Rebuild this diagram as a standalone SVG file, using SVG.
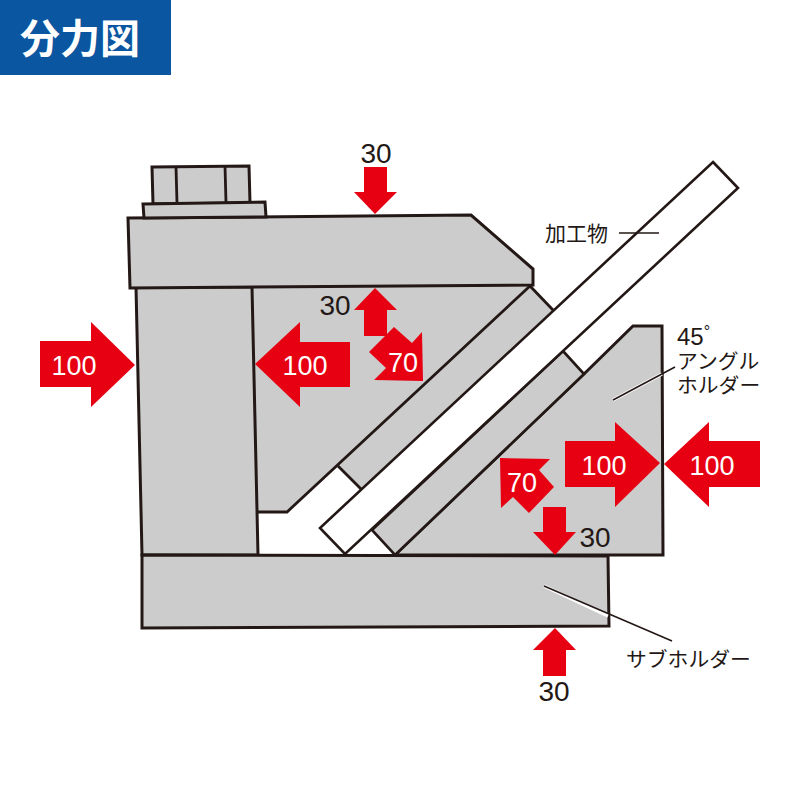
<svg xmlns="http://www.w3.org/2000/svg" width="800" height="800" viewBox="0 0 800 800">
<style>
.p{fill:#cccccc;stroke:#231815;stroke-width:3;stroke-linejoin:miter}
.w{fill:#ffffff;stroke:#231815;stroke-width:2.6;stroke-linejoin:miter}
.l{fill:none;stroke:#231815;stroke-width:2.8}
.d{fill:#cccccc;stroke:#231815;stroke-width:2.6}
.a{fill:#e60012}
.n{font-family:"Liberation Sans",Arial,sans-serif;font-size:27px;text-anchor:middle}
.nw{fill:#ffffff}
.nk{fill:#231815;font-size:28px}
.j{font-family:"Noto Sans CJK JP","Noto Sans",sans-serif;font-size:20.8px;fill:#231815;font-weight:400}
.halo{stroke:#ffffff;stroke-width:3.2;fill:none}
.lead{stroke:#231815;stroke-width:1.6;fill:none}
</style>
<g id="title">
<rect x="0" y="0" width="171" height="75" fill="#0a56a0"/>
<text x="20" y="53" font-family="'Noto Sans CJK JP',sans-serif" font-weight="700" font-size="40" fill="#ffffff">分力図</text>
</g>
<g id="angle-holder">
<polygon class="p" points="633,326 662,326 663,555 395,555 584,374"/>
</g>
<g id="lower-gap">
<polygon fill="#ffffff" points="258,512 287,512 338,466 361,489 345,554 372,530 395,555 258,555"/>
</g>
<g id="upper-fill">
<polygon fill="#cccccc" points="252,287 530,285 553,310 361,489 338,466 287,512 258,512"/>
<path class="l" d="M530,286 L287,512 L257,512"/>
<path class="l" d="M530,286 L553,310"/>
<path class="l" d="M338,466 L361,489"/>
</g>
<g id="lower-plate">
<polygon class="d" points="563,351 584,374 395,555 372,530"/>
</g>
<g id="workpiece">
<polygon class="w" points="713,162 738,188 345,554 320,528"/>
</g>
<g id="column">
<polygon class="p" points="136,287 252,287 258,555 142,555"/>
</g>
<g id="clamp-plate">
<polygon class="p" points="128,218 471,215 533,269 533,285 130,288"/>
</g>
<g id="bolt">
<polygon class="p" points="152,167 249,166 250,203 153,204"/>
<path class="l" d="M176,167 L177,203 M225,166 L226,203"/>
<polygon class="p" points="143,204 265,202 266,217 144,218"/>
</g>
<g id="sub-holder">
<polygon class="p" points="142,555 608,556 609,626 142,628"/>
</g>
<g id="connectors">
<path class="halo" d="M613,400 L662,374"/>
<path class="lead" d="M613,400 L675,367"/>
<path class="halo" d="M544,586 L608,616"/>
<path class="lead" d="M544,586 L672,641"/>
<path class="lead" d="M619,233 L659,233"/>
</g>
<g id="arrows">
<polygon class="a" points="40,341 91,341 91,322 135,365 91,407 91,387 40,387"/>
<polygon class="a" points="350,342 300,342 300,322 255,364 300,407 300,387 350,387"/>
<polygon class="a" points="565,441 615,441 615,422 660,463 615,507 615,487 565,487"/>
<polygon class="a" points="760,441 709,441 709,422 664,464 709,507 709,487 760,487"/>
<polygon class="a" points="364,167 387,167 387,192 397,192 375,214 354,192 364,192"/>
<polygon class="a" points="364,336 387,336 387,310 397,310 375,288 354,310 364,310"/>
<polygon class="a" points="543,507 566,507 566,532 576,532 555,555 533,532 543,532"/>
<polygon class="a" points="543,676 566,676 566,650 576,650 555,628 533,650 543,650"/>
<polygon class="a" points="423,381 422,332 412,343 394,327 369,352 386,368 374,380"/>
<polygon class="a" points="500,458 550,459 539,470 554,487 529,513 513,497 501,508"/>
</g>
<g id="labels">
<text class="n nw" x="74" y="375">100</text>
<text class="n nw" x="305" y="375">100</text>
<text class="n nw" x="604" y="475">100</text>
<text class="n nw" x="712" y="475">100</text>
<text class="n nk" x="376" y="163">30</text>
<text class="n nk" x="335" y="315">30</text>
<text class="n nk" x="595" y="547">30</text>
<text class="n nk" x="554" y="701">30</text>
<text class="n nw" x="403" y="372">70</text>
<text class="n nw" x="522" y="492">70</text>
<text class="j" x="545" y="241" style="font-size:21px">加工物</text>
<text x="677" y="345" font-family="'Liberation Sans',Arial,sans-serif" font-size="24" fill="#231815">45<tspan font-size="16" dy="-8">°</tspan></text>
<text class="j" x="677" y="369">アングル</text>
<text class="j" x="677" y="393">ホルダー</text>
<text class="j" x="626" y="667">サブホルダー</text>
</g>
</svg>
